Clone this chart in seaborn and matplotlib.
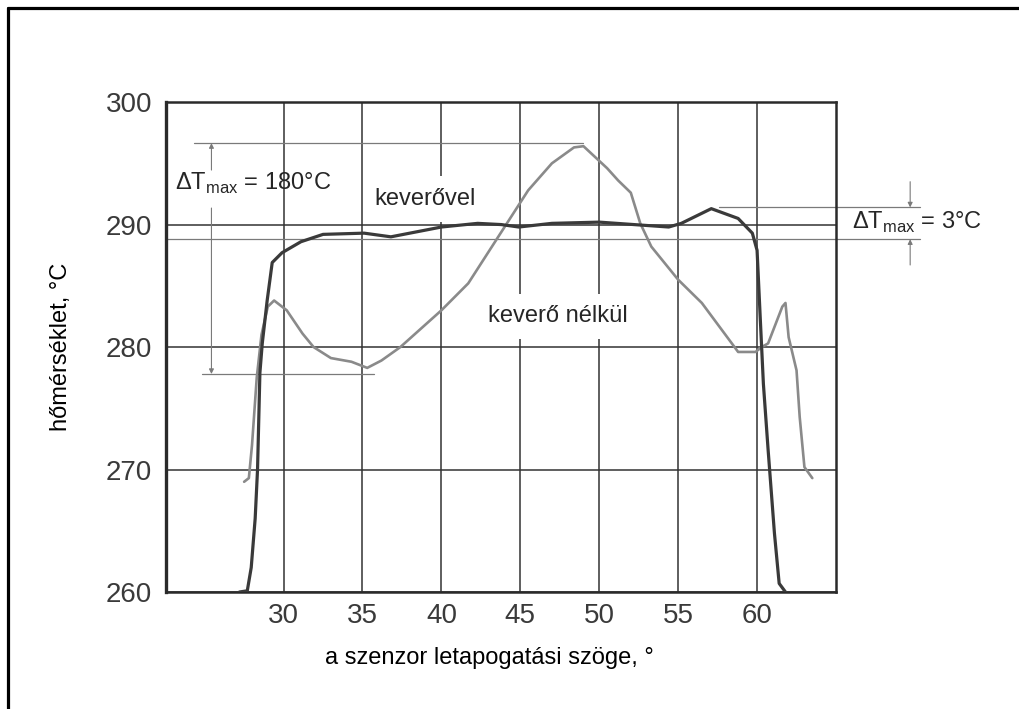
import matplotlib
matplotlib.use("Agg")
import matplotlib.pyplot as plt
import seaborn as sns
import pandas as pd
from matplotlib.lines import Line2D

# keverővel (dark curve)
mix_x = [27.2, 27.7, 27.95, 28.2, 28.35, 28.5, 28.65, 28.96, 29.28, 29.9, 31.1, 32.5,
         35.1, 36.8, 40.0, 42.3, 43.8, 44.9, 47.0, 50.0, 54.4, 55.2, 57.1, 58.8,
         59.7, 60.0, 60.2, 60.4, 60.7, 61.1, 61.4, 61.8]
mix_y = [260.0, 260.1, 262.0, 266.0, 270.0, 277.9, 280.3, 283.8, 286.9, 287.7, 288.6, 289.2,
         289.3, 289.0, 289.8, 290.1, 290.0, 289.8, 290.1, 290.2, 289.8, 290.1, 291.3, 290.5,
         289.3, 287.9, 282.4, 277.0, 271.6, 264.8, 260.7, 260.0]

# keverő nélkül (grey curve)
nomix_x = [27.5, 27.8, 28.0, 28.3, 28.6, 29.0, 29.4, 30.2, 31.2, 31.9, 33.0, 34.3, 35.3,
           36.2, 37.4, 40.0, 41.7, 43.2, 44.4, 45.5, 47.0, 48.4, 49.0, 49.5, 50.5, 51.2,
           52.0, 52.6, 53.3, 55.0, 56.5, 58.4, 58.8, 59.9, 60.3, 60.7, 61.6, 61.8, 62.0,
           62.5, 62.7, 63.0, 63.5]
nomix_y = [269.0, 269.3, 272.0, 277.5, 281.0, 283.3, 283.8, 283.0, 281.1, 280.0, 279.1, 278.8, 278.3,
           278.9, 280.0, 283.0, 285.2, 288.2, 290.6, 292.8, 295.0, 296.3, 296.4, 295.8, 294.6, 293.6,
           292.6, 290.1, 288.2, 285.5, 283.6, 280.3, 279.6, 279.6, 280.0, 280.3, 283.3, 283.6, 280.8,
           278.1, 274.3, 270.2, 269.3]

x_ticks = [30, 35, 40, 45, 50, 55, 60]
y_ticks = [260, 270, 280, 290, 300]

sns.set_style("white")
plt.rcParams["font.family"] = ["Liberation Sans", "DejaVu Sans"]
plt.rcParams["mathtext.fontset"] = "custom"
plt.rcParams["mathtext.rm"] = "Liberation Sans"

fig = plt.figure(figsize=(10.19, 7.09), dpi=100)
ax = fig.add_axes([0.1629, 0.165, 0.6575, 0.691])

df_mix = pd.DataFrame({"x": mix_x, "y": mix_y})
df_nomix = pd.DataFrame({"x": nomix_x, "y": nomix_y})

ax.set_xlim(22.55, 65.0)
ax.set_ylim(260, 300)
ax.set_xticks(x_ticks)
ax.set_yticks(y_ticks)
ax.grid(True, color="#333333", linewidth=1.1)
ax.set_axisbelow(True)
ax.tick_params(length=0, labelsize=20, labelcolor="#3a3a3a")
ax.tick_params(axis="y", pad=10)
ax.tick_params(axis="x", pad=8)
for s in ax.spines.values():
    s.set_color("#2a2a2a")
    s.set_linewidth(1.8)
ax.spines["left"].set_linewidth(2.4)

sns.lineplot(data=df_nomix, x="x", y="y", ax=ax, color="#8a8a8a", linewidth=1.9,
             sort=False, estimator=None, zorder=3)
sns.lineplot(data=df_mix, x="x", y="y", ax=ax, color="#3a3a3a", linewidth=2.3,
             sort=False, estimator=None, zorder=3)

ax.set_xlabel("a szenzor letapogatási szöge, °", fontsize=17, color="black")
ax.set_ylabel("hőmérséklet, °C", fontsize=17, color="black")
ax.xaxis.set_label_coords(0.482, -0.112)
ax.yaxis.set_label_coords(-0.14, 0.5)

# measurement lines
gc = "#7a7a7a"
ax.plot([24.3, 49.0], [296.65, 296.65], color=gc, lw=0.9, clip_on=False)
ax.plot([24.85, 35.7], [277.8, 277.8], color=gc, lw=0.9, clip_on=False)
ax.plot([57.6, 70.3], [291.4, 291.4], color=gc, lw=0.9, clip_on=False)
ax.plot([22.55, 70.3], [288.8, 288.8], color=gc, lw=0.9, clip_on=False)

ap = dict(arrowstyle="-|>", color=gc, lw=0.8, mutation_scale=7, shrinkA=0, shrinkB=0)
ax.annotate("", xy=(25.43, 296.65), xytext=(25.43, 294.45), arrowprops=ap, annotation_clip=False)
ax.annotate("", xy=(25.43, 277.8), xytext=(25.43, 291.35), arrowprops=ap, annotation_clip=False)
ax.annotate("", xy=(69.7, 291.4), xytext=(69.7, 293.5), arrowprops=ap, annotation_clip=False)
ax.annotate("", xy=(69.7, 288.8), xytext=(69.7, 286.7), arrowprops=ap, annotation_clip=False)

ax.text(23.1, 293.4, r"Δ$\mathrm{T}_{\mathrm{max}}$ = 180°C", fontsize=17, ha="left", va="center",
        zorder=4)
ax.text(66.0, 290.2, r"Δ$\mathrm{T}_{\mathrm{max}}$ = 3°C", fontsize=17, ha="left", va="center",
        clip_on=False)
ax.text(38.96, 292.1, "keverővel", fontsize=17, ha="center", va="center", zorder=2,
        bbox=dict(boxstyle="square,pad=0.5", fc="white", ec="none"))
ax.text(47.4, 282.5, "keverő nélkül", fontsize=17, ha="center", va="center", zorder=2,
        bbox=dict(boxstyle="square,pad=0.5", fc="white", ec="none"))

# page frame (top and left)
fig.add_artist(Line2D([0.0083, 0.0083], [0.0, 0.9894], transform=fig.transFigure,
                      color="black", lw=2.3))
fig.add_artist(Line2D([0.0083, 1.0], [0.9894, 0.9894], transform=fig.transFigure,
                      color="black", lw=2.3))

fig.savefig("out.png", dpi=100)
